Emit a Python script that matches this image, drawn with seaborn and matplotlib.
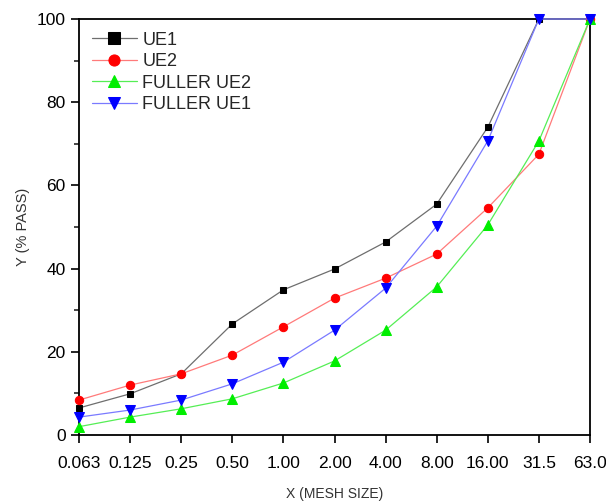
import numpy as np
import pandas as pd
import matplotlib
matplotlib.use("Agg")
import matplotlib.pyplot as plt
import seaborn as sns
from matplotlib.ticker import MultipleLocator

# ─── Data ─────────────────────────────────────────────────────────────────────
MESH = ["0.063", "0.125", "0.25", "0.50", "1.00", "2.00",
        "4.00", "8.00", "16.00", "31.5", "63.0"]
UE1 = [6.5, 9.9, 14.7, 26.7, 34.9, 39.9, 46.4, 55.5, 74.0, 100.0, 100.0]
UE2 = [8.4, 12.0, 14.7, 19.2, 26.0, 32.9, 37.7, 43.5, 54.6, 67.5, 100.0]
FULLER_UE2 = [2.0, 4.3, 6.3, 8.7, 12.5, 17.8, 25.2, 35.6, 50.5, 70.7, 100.0]
FULLER_UE1 = [4.3, 6.0, 8.4, 12.3, 17.5, 25.2, 35.3, 50.2, 70.7, 100.0, 100.0]

# name, values, marker, marker size, marker colour, line colour
SERIES = [
    ("UE1", UE1, "s", 5.0, "#000000", "#6e6e6e"),
    ("UE2", UE2, "o", 6.0, "#ff0000", "#ff7a7a"),
    ("FULLER UE2", FULLER_UE2, "^", 7.0, "#00ee00", "#55ee55"),
    ("FULLER UE1", FULLER_UE1, "v", 7.0, "#0000ff", "#7a7aff"),
]

sns.set_theme(style="white")
plt.rcParams["font.family"] = ["Liberation Sans", "DejaVu Sans"]

fig = plt.figure(figsize=(6.06, 5.03), dpi=100)
ax = fig.add_axes([0.1304, 0.1352, 0.8432, 0.827])

pos = np.arange(len(MESH))
for name, vals, mk, ms, mcol, lcol in SERIES:
    sns.lineplot(x=pos, y=vals, ax=ax, color=lcol, linewidth=0.9,
                 marker=mk, markersize=ms,
                 markerfacecolor=mcol, markeredgecolor=mcol,
                 label=name, clip_on=False, zorder=3)

ax.set_xlim(0, len(MESH) - 1)
ax.set_ylim(0, 100)
ax.set_xticks(pos)
ax.set_xticklabels(MESH)
ax.yaxis.set_major_locator(MultipleLocator(20))
ax.yaxis.set_minor_locator(MultipleLocator(10))

for side in ["left", "bottom", "top", "right"]:
    ax.spines[side].set_color("black")
    ax.spines[side].set_linewidth(1.3)

ax.tick_params(axis="both", which="major", direction="out", length=6,
               width=1.2, colors="black", labelsize=12.5, left=True, bottom=True)
ax.tick_params(axis="x", pad=9)
ax.tick_params(axis="y", which="minor", direction="out", length=3.5,
               width=1.2, left=True)

ax.set_xlabel("X (MESH SIZE)", fontsize=10, color="#333333", labelpad=12)
ax.set_ylabel("Y (% PASS)", fontsize=10.5, color="#333333", labelpad=5)

legend = ax.legend(loc="upper left", frameon=False, fontsize=13,
                   handlelength=2.5, handletextpad=0.3, labelspacing=0.25,
                   borderaxespad=0.3)
for h in legend.legend_handles:
    h.set_markersize(8)

fig.savefig("out.png", dpi=100)
plt.close(fig)
